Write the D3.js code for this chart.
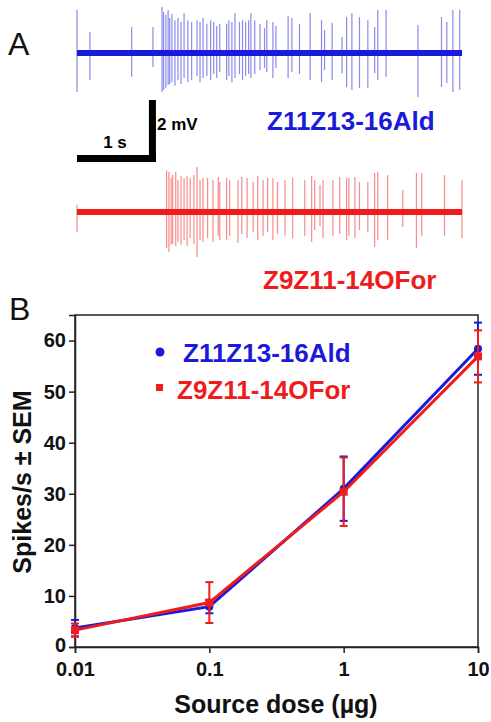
<!DOCTYPE html>
<html>
<head>
<meta charset="utf-8">
<script src="https://cdn.jsdelivr.net/npm/d3@7"></script>
<style>
  body { margin: 0; background: #fff; }
  svg { display: block; font-family: "Liberation Sans", Arial, sans-serif; }
</style>
</head>
<body>
<svg id="fig" width="491" height="722"></svg>
<script>
// ---- panel A: spike recordings, [time s, up mV, down mV] ----
var traceDur = 5.07;
var blueSpikes = [
  [0.00,1.39,1.26],[0.17,0.68,0.87],[0.72,0.84,0.77],[1.00,0.84,0.45],
  [1.12,1.48,1.26],[1.14,1.32,1.19],[1.17,1.23,1.13],[1.20,1.39,1.03],
  [1.22,1.13,1.00],[1.25,1.26,0.94],[1.29,1.06,1.06],[1.33,1.13,0.87],
  [1.37,1.00,1.00],[1.41,1.29,0.81],[1.46,1.06,0.94],[1.51,1.00,0.87],
  [1.58,1.06,0.74],[1.62,1.00,0.94],[1.66,1.13,0.81],[1.71,0.94,0.74],
  [1.76,1.06,0.87],[1.80,1.00,0.68],[1.84,0.87,0.81],[1.88,0.94,0.61],
  [1.97,0.94,0.87],[2.00,1.06,0.74],[2.04,1.00,0.94],[2.08,1.29,0.81],
  [2.14,1.00,0.68],[2.18,1.06,0.87],[2.22,1.00,0.74],[2.26,1.06,0.68],
  [2.29,1.29,0.81],[2.34,1.06,0.68],[2.41,0.94,0.55],[2.47,0.81,0.48],
  [2.50,1.06,0.61],[2.58,1.00,0.81],[2.62,0.87,0.48],[2.78,1.19,0.81],
  [2.83,1.13,0.61],[2.93,0.94,0.68],[3.07,1.29,0.87],[3.22,1.06,0.94],
  [3.26,0.74,0.55],[3.36,0.97,0.87],[3.49,0.52,0.65],[3.55,1.16,1.10],
  [3.62,1.29,1.19],[3.72,1.16,1.13],[3.83,1.06,1.13],[3.92,0.84,0.65],
  [3.96,1.39,0.87],[4.07,1.39,0.77],[4.49,0.90,1.42],[4.80,1.16,1.10],
  [4.87,1.00,0.97],[4.95,1.39,1.26],[5.04,1.39,1.19]
];
var redSpikes = [
  [0.00,0.23,0.65],[1.18,1.35,1.16],[1.21,1.29,1.29],[1.24,1.10,1.06],
  [1.26,1.19,1.03],[1.30,1.29,1.10],[1.33,1.03,0.97],[1.37,1.16,1.06],
  [1.41,1.10,0.90],[1.45,1.16,1.10],[1.49,1.10,0.84],[1.54,1.19,1.03],
  [1.58,1.45,1.45],[1.62,1.03,0.90],[1.66,1.10,0.97],[1.72,1.10,0.84],
  [1.79,1.03,0.97],[1.86,1.13,0.77],[1.88,0.97,0.90],[1.97,1.10,0.90],
  [2.01,1.03,0.77],[2.12,1.03,1.00],[2.17,1.13,0.71],[2.24,1.10,0.84],
  [2.32,0.97,0.65],[2.38,1.16,0.90],[2.45,1.03,0.77],[2.51,1.10,0.65],
  [2.58,1.10,0.90],[2.64,0.97,0.71],[2.74,1.03,0.77],[2.84,1.10,0.84],
  [3.00,1.03,0.77],[3.09,1.16,0.97],[3.13,1.03,0.58],[3.20,0.87,0.45],
  [3.24,1.03,0.84],[3.37,1.03,0.77],[3.46,1.13,0.71],[3.55,1.10,0.90],
  [3.58,1.10,0.77],[3.66,1.13,0.84],[3.72,0.97,0.58],[3.83,0.97,0.65],
  [3.92,1.26,1.13],[3.96,1.29,0.90],[4.09,1.19,0.90],[4.29,0.71,0.48],
  [4.47,1.26,1.16],[4.54,1.26,0.77],[4.84,1.19,0.77],[5.07,1.03,0.84]
];
var scaleBarTime = 1;   // s
var scaleBarVolt = 2;   // mV

// ---- panel B: dose response ----
var doses = [0.01, 0.1, 1, 10];
var doseTicks = ["0.01", "0.1", "1", "10"];
var ald = [3.7, 7.9, 31.0, 58.4];
var aldSem = [1.6, 1.3, 6.3, 5.1];
var ofor = [3.3, 8.7, 30.4, 56.9];
var oforSem = [1.3, 4.0, 6.7, 5.1];
var yTicks = [0, 10, 20, 30, 40, 50, 60];
var seriesNames = ["Z11Z13-16Ald", "Z9Z11-14OFor"];

(function () {
var blue = "#1a1ad8", red = "#ee1c1c";

var svg = d3.select("#fig");

// ===== panel A =====
svg.append("text").attr("x", 8).attr("y", 55)
  .style("font-size", "32px").attr("fill", "#111").text("A");

var tx = d3.scaleLinear().domain([0, traceDur]).range([77, 462]);
var mv = d3.scaleLinear().domain([0, 1]).range([0, 31]); // px per mV

function drawTrace(spikes, base, col) {
  var g = svg.append("g");
  g.selectAll("line.spk")
    .data(spikes)
    .join("line")
    .attr("class", "spk")
    .attr("x1", d => tx(d[0])).attr("x2", d => tx(d[0]))
    .attr("y1", d => base - mv(d[1]))
    .attr("y2", d => base + mv(d[2]))
    .attr("stroke", col).attr("stroke-width", 1.2)
    .attr("opacity", 0.5);
  g.append("line")
    .attr("x1", tx(0)).attr("x2", tx(traceDur))
    .attr("y1", base).attr("y2", base)
    .attr("stroke", col).attr("stroke-width", 6);
}
drawTrace(blueSpikes, 53, blue);
drawTrace(redSpikes, 212, red);

// scale bar
var barRight = tx(scaleBarTime) + 3;
svg.append("rect")
  .attr("x", tx(0)).attr("y", 155)
  .attr("width", tx(scaleBarTime) - tx(0) + 3).attr("height", 7)
  .attr("fill", "#000");
svg.append("rect")
  .attr("x", barRight - 7).attr("y", 162 - mv(scaleBarVolt))
  .attr("width", 7).attr("height", mv(scaleBarVolt))
  .attr("fill", "#000");
svg.append("text").attr("x", 115).attr("y", 148)
  .attr("text-anchor", "middle")
  .style("font-size", "17px").style("font-weight", "bold").text("1 s");
svg.append("text").attr("x", 157).attr("y", 130)
  .style("font-size", "17px").style("font-weight", "bold").text("2 mV");

svg.append("text").attr("x", 267).attr("y", 130)
  .style("font-size", "26px").style("font-weight", "bold")
  .attr("fill", blue).text(seriesNames[0]);
svg.append("text").attr("x", 263).attr("y", 289)
  .style("font-size", "26px").style("font-weight", "bold")
  .attr("fill", red).text(seriesNames[1]);

// ===== panel B =====
svg.append("text").attr("x", 9).attr("y", 320)
  .style("font-size", "32px").attr("fill", "#111").text("B");

var pLeft = 75, pRight = 478, pTop = 315, pBottom = 647;
var x = d3.scaleLog().domain([0.01, 10]).range([pLeft, pRight]);
var y = d3.scaleLinear().domain([0, 65]).range([pBottom, pTop]);

var plot = svg.append("g");

// frame
plot.append("rect")
  .attr("x", pLeft).attr("y", pTop)
  .attr("width", pRight - pLeft).attr("height", pBottom - pTop)
  .attr("fill", "none").attr("stroke", "#222").attr("stroke-width", 1.5);

var yAxis = plot.append("g")
  .attr("transform", `translate(${pLeft},0)`)
  .call(d3.axisLeft(y).tickValues(yTicks).tickSize(6).tickPadding(3));
var xAxis = plot.append("g")
  .attr("transform", `translate(0,${pBottom})`)
  .call(d3.axisBottom(x).tickValues(doses)
    .tickFormat((d, i) => doseTicks[i]).tickSize(6).tickPadding(9));
[yAxis, xAxis].forEach(a => {
  a.select(".domain").attr("stroke", "#222").attr("stroke-width", 1.5);
  a.selectAll(".tick line").attr("stroke", "#222").attr("stroke-width", 1.5);
  a.selectAll(".tick text")
    .style("font-size", "20px").style("font-weight", "bold")
    .style("font-family", "'Liberation Sans', Arial, sans-serif")
    .attr("fill", "#111");
});
// lift the "0" label slightly, as in the original
yAxis.selectAll(".tick text").filter(d => d === 0).attr("dy", "0.2em");

function drawSeries(mean, sem, col, marker) {
  var pts = doses.map((d, i) => ({ d: d, m: mean[i], s: sem[i] }));
  var g = plot.append("g");
  g.selectAll("line.eb").data(pts).join("line").attr("class", "eb")
    .attr("x1", p => x(p.d)).attr("x2", p => x(p.d))
    .attr("y1", p => y(p.m - p.s)).attr("y2", p => y(p.m + p.s))
    .attr("stroke", col).attr("stroke-width", 2);
  [-1, 1].forEach(sgn => {
    g.selectAll("line.cap" + (sgn + 1)).data(pts).join("line")
      .attr("class", "cap" + (sgn + 1))
      .attr("x1", p => x(p.d) - 4).attr("x2", p => x(p.d) + 4)
      .attr("y1", p => y(p.m + sgn * p.s)).attr("y2", p => y(p.m + sgn * p.s))
      .attr("stroke", col).attr("stroke-width", 2);
  });
  g.append("path").datum(pts)
    .attr("d", d3.line().x(p => x(p.d)).y(p => y(p.m)))
    .attr("fill", "none").attr("stroke", col).attr("stroke-width", 3);
  if (marker === "circle") {
    g.selectAll("circle").data(pts).join("circle")
      .attr("cx", p => x(p.d)).attr("cy", p => y(p.m)).attr("r", 4)
      .attr("fill", col);
  } else {
    g.selectAll("rect").data(pts).join("rect")
      .attr("x", p => x(p.d) - 4).attr("y", p => y(p.m) - 4)
      .attr("width", 8).attr("height", 8).attr("fill", col);
  }
}
drawSeries(ald, aldSem, blue, "circle");
drawSeries(ofor, oforSem, red, "square");

// legend
var leg = plot.append("g");
leg.append("circle").attr("cx", 160).attr("cy", 352).attr("r", 4.5).attr("fill", blue);
leg.append("text").attr("x", 183).attr("y", 362)
  .style("font-size", "26px").style("font-weight", "bold")
  .attr("fill", blue).text(seriesNames[0]);
leg.append("rect").attr("x", 156).attr("y", 384).attr("width", 7).attr("height", 7).attr("fill", red);
leg.append("text").attr("x", 177).attr("y", 399)
  .style("font-size", "26px").style("font-weight", "bold")
  .attr("fill", red).text(seriesNames[1]);

// axis titles
svg.append("text")
  .attr("transform", "translate(31,482) rotate(-90)")
  .attr("text-anchor", "middle")
  .style("font-size", "25px").style("font-weight", "bold")
  .attr("fill", "#111").text("Spikes/s \u00b1 SEM");
svg.append("text")
  .attr("x", 276).attr("y", 713)
  .attr("text-anchor", "middle")
  .style("font-size", "25px").style("font-weight", "bold")
  .attr("fill", "#111").text("Source dose (\u00b5g)");
})();
</script>
</body>
</html>
